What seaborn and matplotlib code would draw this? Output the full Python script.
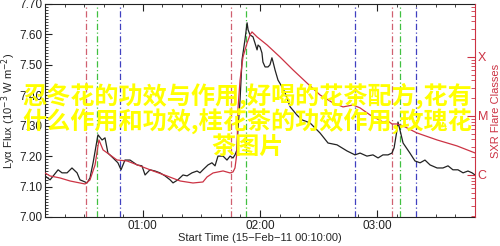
import numpy as np
import pandas as pd
import matplotlib
matplotlib.use("Agg")
import matplotlib.pyplot as plt
import matplotlib.ticker as mticker
import seaborn as sns

# ---- data (minutes since 00:10:00) ----
lya_time = [0, 2.6, 6.7, 8.7, 11.3, 13.8, 16.4, 17.9, 19.4, 21.5, 23.0, 24.6, 27.1, 29.2, 30.7,
            32.2, 34.8, 37.3, 38.9, 40.9, 43.5, 47.1, 49.6, 51.2, 53.7, 56.3, 58.8, 61.4, 64.0,
            65.5, 68.0, 70.6, 72.7, 75.2, 77.8, 79.3, 80.8, 83.4, 85.4, 87.0, 88.5, 91.1, 93.1,
            94.7, 96.2, 97.2, 98.2, 98.7, 99.8, 100.8, 102.3, 103.4, 103.9, 104.9, 106.4, 107.4,
            108.5, 109.0, 110.0, 111.0, 111.5, 112.6, 114.1, 115.1, 116.1, 116.7, 117.7, 119.2,
            121.3, 122.8, 125.4, 128.9, 131.5, 135.6, 140.7, 144.8, 149.4, 154.5, 158.6, 161.2,
            164.7, 167.8, 170.4, 172.9, 175.5, 177.5, 178.6, 180.1, 180.6, 181.6, 183.2, 186.7,
            189.3, 191.9, 194.4, 197.0, 200.6, 203.6, 206.2, 208.7, 211.3, 213.9, 216.4, 218.5, 220]
lya_flux = [7.135, 7.122, 7.155, 7.145, 7.145, 7.161, 7.145, 7.122, 7.118, 7.112, 7.128, 7.178,
            7.270, 7.253, 7.260, 7.210, 7.194, 7.178, 7.155, 7.187, 7.187, 7.171, 7.168, 7.138,
            7.155, 7.151, 7.145, 7.135, 7.122, 7.112, 7.122, 7.138, 7.135, 7.145, 7.151, 7.145,
            7.155, 7.171, 7.178, 7.168, 7.200, 7.200, 7.187, 7.200, 7.194, 7.204, 7.220, 7.286,
            7.385, 7.516, 7.582, 7.638, 7.615, 7.598, 7.592, 7.572, 7.549, 7.565, 7.559, 7.539,
            7.509, 7.493, 7.493, 7.500, 7.523, 7.509, 7.483, 7.450, 7.427, 7.408, 7.362, 7.335,
            7.319, 7.309, 7.276, 7.243, 7.237, 7.217, 7.204, 7.210, 7.200, 7.204, 7.194, 7.204,
            7.204, 7.210, 7.227, 7.286, 7.312, 7.286, 7.243, 7.210, 7.184, 7.178, 7.187, 7.171,
            7.161, 7.161, 7.168, 7.155, 7.155, 7.145, 7.151, 7.145, 7.138]

sxr_time = [0, 2.6, 7.7, 12.8, 17.9, 20.5, 23.0, 25.6, 27.6, 29.7, 33.3, 36.8, 42.0, 48.6, 55.3,
            62.4, 69.1, 75.7, 80.8, 82.9, 86.0, 91.1, 94.7, 96.2, 97.2, 98.2, 98.7, 99.8, 101.3,
            103.4, 104.9, 105.9, 108.5, 113.6, 120.2, 126.9, 134.0, 140.7, 147.4, 152.5, 157.6,
            161.2, 166.3, 172.9, 175.5, 177.5, 180.1, 183.2, 190.3, 200.6, 210.8, 220]
sxr_log = [-5.966, -6.017, -6.051, -6.102, -6.136, -6.153, -6.085, -5.831, -5.407, -5.576, -5.661,
           -5.746, -5.763, -5.847, -5.932, -6.017, -6.102, -6.136, -6.119, -6.034, -5.966, -5.932,
           -5.966, -5.949, -5.881, -5.627, -4.898, -4.390, -4.000, -3.763, -3.627, -3.576, -3.661,
           -3.797, -4.000, -4.220, -4.441, -4.644, -4.780, -4.847, -4.814, -4.864, -4.983, -5.102,
           -5.085, -5.136, -5.136, -5.169, -5.288, -5.407, -5.508, -5.627]

event_times = [20.8, 26.8, 38.6, 95.2, 102.8, 158.6, 177.4, 181.6, 189.8]
event_kinds = ["start", "peak", "end", "start", "peak", "end", "start", "peak", "end"]

x_tick_pos = [50, 110, 170]
x_tick_labels = ["01:00", "02:00", "03:00"]
class_levels = [1e-6, 1e-5, 1e-4]
class_labels = ["C", "M", "X"]

watermark = "忍冬花的功效与作用,好喝的花茶配方,花有\n什么作用和功效,桂花茶的功效作用,玫瑰花\n茶图片"

# ---- style ----
sns.set_style("ticks")
plt.rcParams["font.family"] = ["Liberation Sans", "DejaVu Sans"]

RED = "#cc3344"
fig = plt.figure(figsize=(5.0, 2.46), dpi=100)
ax = fig.add_axes([0.09, 0.118, 0.86, 0.866])

df_lya = pd.DataFrame({"t": lya_time, "flux": lya_flux})
df_sxr = pd.DataFrame({"t": sxr_time, "flux": np.power(10.0, sxr_log)})

ev_colors = {"start": "#d06070", "peak": "#40c040", "end": "#4040c0"}
for t, k in zip(event_times, event_kinds):
    ax.axvline(t, color=ev_colors[k], lw=0.9, ls=(0, (5, 2, 1, 2)), zorder=1)

sns.lineplot(data=df_lya, x="t", y="flux", ax=ax, color="#222222", lw=0.9, zorder=3)

ax.set_xlim(0, 220)
ax.set_ylim(7.0, 7.70)
ax.set_xticks(x_tick_pos)
ax.set_xticklabels(x_tick_labels)
ax.xaxis.set_minor_locator(mticker.MultipleLocator(10))
ax.yaxis.set_major_locator(mticker.MultipleLocator(0.1))
ax.yaxis.set_major_formatter(mticker.FormatStrFormatter("%.2f"))
ax.yaxis.set_minor_locator(mticker.MultipleLocator(0.01))
ax.tick_params(axis="both", which="both", direction="in", top=True, right=False,
               labelsize=8.5, colors="#222222")
ax.tick_params(axis="both", which="major", length=5, width=0.8, pad=2)
ax.tick_params(axis="both", which="minor", length=2.5, width=0.6)
ax.set_xlabel("Start Time (15\u2212Feb\u221211 00:10:00)", fontsize=8, labelpad=1)
ax.set_ylabel("Ly\u03b1 Flux (10$^{-3}$ W m$^{-2}$)", fontsize=8, labelpad=1)
for s in ["left", "bottom", "top"]:
    ax.spines[s].set_color("#222222")
    ax.spines[s].set_linewidth(0.8)
ax.spines["right"].set_visible(False)

ax2 = ax.twinx()
ax2.set_yscale("log")
sns.lineplot(data=df_sxr, x="t", y="flux", ax=ax2, color=RED, lw=0.9, zorder=4)
ax2.set_ylim(10 ** -6.712, 10 ** -3.102)
ax2.set_xlim(0, 220)
ax2.set_yticks(class_levels)
ax2.set_yticklabels(class_labels)
ax2.yaxis.set_minor_locator(mticker.LogLocator(base=10, subs=np.arange(2, 10)))
ax2.yaxis.set_minor_formatter(mticker.NullFormatter())
ax2.tick_params(axis="y", which="both", direction="in", colors=RED, labelsize=9, pad=2)
ax2.tick_params(axis="y", which="major", length=6, width=0.8)
ax2.tick_params(axis="y", which="minor", length=3, width=0.6)
ax2.set_ylabel("SXR Flare Classes", color=RED, fontsize=8, labelpad=2, rotation=90)
ax2.set_xlabel("")
for s in ["left", "bottom", "top"]:
    ax2.spines[s].set_visible(False)
ax2.spines["right"].set_color(RED)
ax2.spines["right"].set_linewidth(0.8)

fig.text(0.495, 0.51, watermark, ha="center", va="center", color="#ffff00",
         fontsize=17.4, fontweight="bold", linespacing=1.0,
         family=["Noto Sans CJK SC", "DejaVu Sans"], zorder=10)

fig.savefig("out.png", dpi=100)
